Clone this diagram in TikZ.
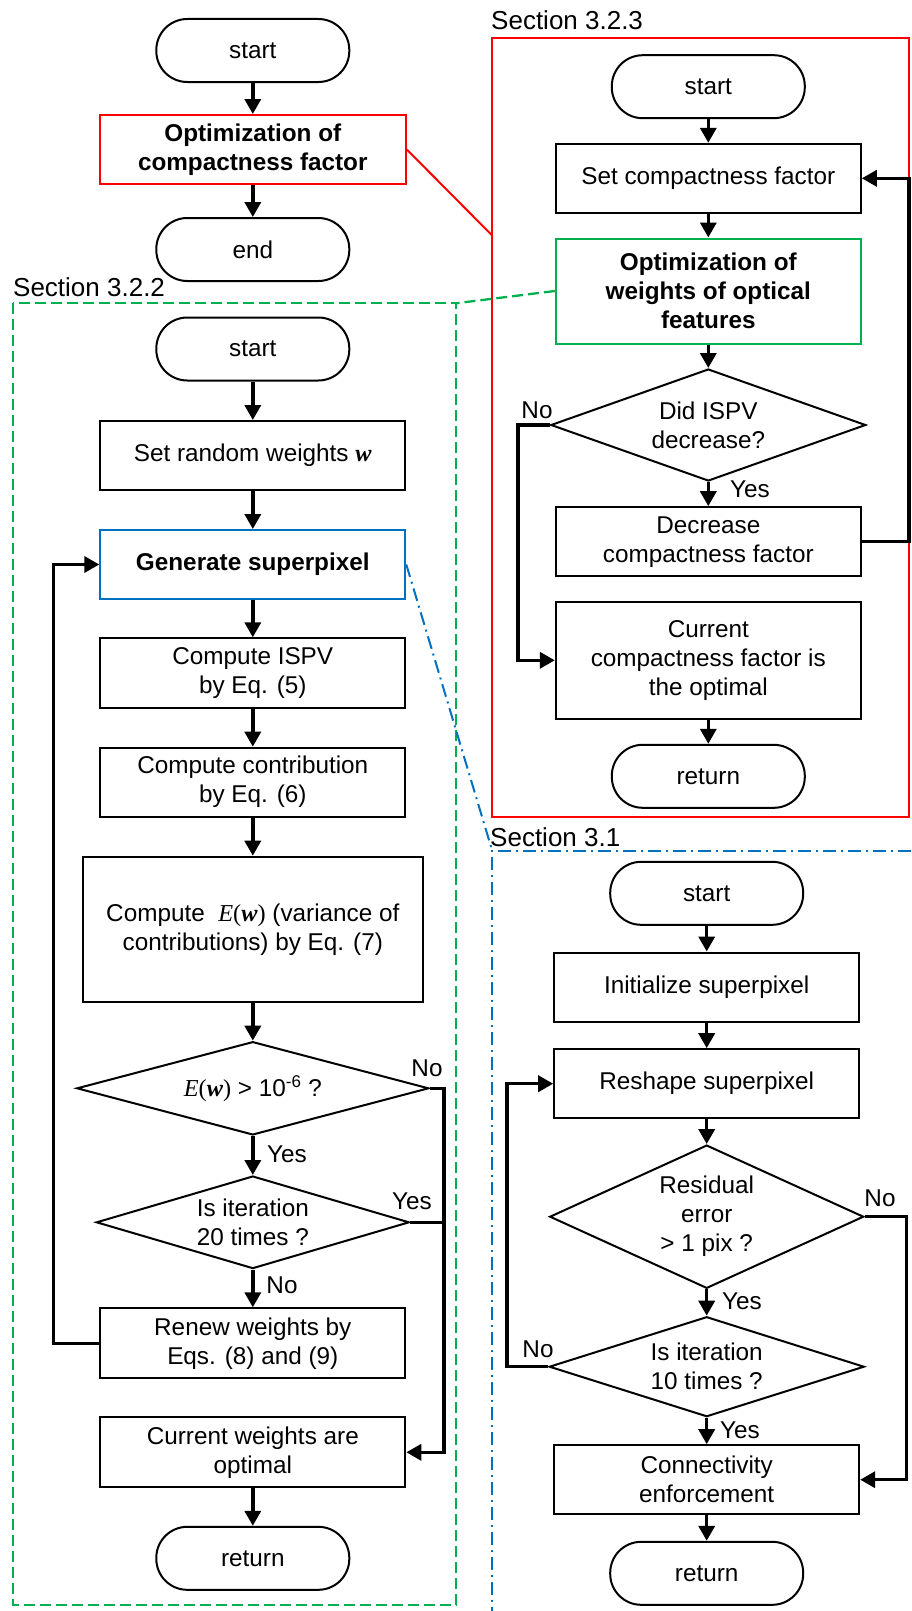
\documentclass[tikz,border=0pt]{standalone}
\usepackage{fontspec}
\setmainfont{Liberation Sans}
\newfontfamily\timesfont{Liberation Serif}
\usetikzlibrary{calc,arrows.meta,shapes.geometric}

\definecolor{offred}{RGB}{255,0,0}
\definecolor{offgreen}{RGB}{0,176,80}
\definecolor{offblue}{RGB}{0,112,192}

\tikzset{
  base/.style={draw=black, line width=2pt, align=center, inner sep=0pt,
    font=\fontsize{24.3}{29}\selectfont},
  term/.style={base, rounded corners=31pt, minimum width=193pt, minimum height=63pt},
  proc/.style={base, minimum width=305pt, minimum height=69pt},
  decis/.style={base, diamond},
  conn/.style={line width=3.5pt},
  arr/.style={conn, -{Triangle[length=15pt,width=16pt]}},
  lbl/.style={font=\fontsize{24.3}{29}\selectfont, inner sep=0pt},
  sec/.style={font=\fontsize{26}{30}\selectfont, anchor=base west, inner sep=0pt},
  redframe/.style={draw=offred, line width=2pt},
  greenframe/.style={draw=offgreen, line width=2.3pt, dash pattern=on 11pt off 5pt},
  blueframe/.style={draw=offblue, line width=2pt, dash pattern=on 13pt off 5pt on 2pt off 5pt},
}
\newcommand{\Ew}{{\timesfont\textit{E}(\textbf{\textit{w}})}}

\begin{document}
\begin{tikzpicture}[x=1pt, y=-1pt]
  \useasboundingbox (0,0) rectangle (911,1611);

  % main flow
  \node[term] (start1) at (252.8,50.5) {start};
  \node[proc, draw=offred, minimum width=306pt] (optcf) at (252.8,149.5) {\bfseries Optimization of\\\bfseries compactness factor};
  \node[term] (end1) at (252.8,249.5) {end};
  \draw[arr] (start1) -- (optcf);
  \draw[arr] (optcf) -- (end1);

  % section frames
  \node[sec] (secB) at (491,30) {Section 3.2.3};
  \node[sec] (secA) at (13,296) {Section 3.2.2};
  \node[sec] (secC) at (490,846) {Section 3.1};
  \draw[redframe] (491.7,38.3) rectangle (909,816.7);
  \draw[greenframe] (13.3,303.3) rectangle (455.7,1605);
  \draw[blueframe] (911,851) -- (492.3,851) -- (492.3,1611);
  \coordinate (redjoin) at (491.7,235);
  \coordinate (greenjoin) at (455.7,303.3);
  \coordinate (bluejoin) at (492.3,851);

  % Section 3.2.3
  \node[term] (start2) at (708.3,86.7) {start};
  \node[proc] (setcf) at (708.3,178.3) {Set compactness factor};
  \node[proc, draw=offgreen, minimum height=105pt] (optw) at (708.3,291) {\bfseries Optimization of\\\bfseries weights of optical\\\bfseries features};
  \node[decis, aspect=2.81, minimum width=315pt, minimum height=112pt] (did) at (708.3,425) {Did ISPV\\decrease?};
  \node[proc] (decr) at (708.3,541.7) {Decrease\\compactness factor};
  \node[proc, minimum height=117pt] (curcf) at (708.3,660.3) {Current\\compactness factor is\\the optimal};
  \node[term] (ret2) at (708.3,776.3) {return};
  \draw[arr] (start2) -- (setcf);
  \draw[arr] (setcf) -- (optw);
  \draw[arr] (optw) -- (did);
  \draw[arr] (did) -- (decr);
  \draw[arr] (curcf) -- (ret2);
  \draw[arr] (decr.east) -- ++(47,0) |- (setcf.east);
  \draw[arr] (did.west) -- ++(-31.7,0) |- (curcf.west);
  \node[lbl] (noB) at (537,410) {No};
  \node[lbl] (yesB) at (750,489) {Yes};

  % Section 3.2.2
  \node[term] (start3) at (252.8,349) {start};
  \node[proc] (setw) at (252.8,455.5) {Set random weights {\timesfont\textbf{\textit{w}}}};
  \node[proc, draw=offblue] (gensp) at (252.8,564.5) {\bfseries Generate superpixel};
  \node[proc, minimum height=70pt] (cispv) at (252.8,673.3) {Compute ISPV\\by Eq. (5)};
  \node[proc] (ccon) at (252.8,782.2) {Compute contribution\\by Eq. (6)};
  \node[proc, minimum width=340pt, minimum height=145.6pt] (cew) at (252.8,929.5) {Compute \ \Ew{} (variance of\\contributions) by Eq. (7)};
  \node[decis, aspect=3.77, minimum width=352pt, minimum height=93.3pt] (dew) at (252.8,1088.3) {\Ew{} > 10\textsuperscript{-6} ?};
  \node[decis, aspect=3.38, minimum width=313pt, minimum height=92.6pt] (dit20) at (252.8,1222.3) {Is iteration\\20 times ?};
  \node[proc, minimum height=70pt] (renew) at (252.8,1343.3) {Renew weights by\\Eqs. (8) and (9)};
  \node[proc, minimum height=70pt] (curw) at (252.8,1452.3) {Current weights are\\optimal};
  \node[term] (ret3) at (252.8,1558.3) {return};
  \draw[arr] (start3) -- (setw);
  \draw[arr] (setw) -- (gensp);
  \draw[arr] (gensp) -- (cispv);
  \draw[arr] (cispv) -- (ccon);
  \draw[arr] (ccon) -- (cew);
  \draw[arr] (cew) -- (dew);
  \draw[arr] (dew) -- (dit20);
  \draw[arr] (dit20) -- (renew);
  \draw[arr] (curw) -- (ret3);
  \draw[arr] (renew.west) -- ++(-45.8,0) |- (gensp.west);
  \coordinate (jn) at (444,1222.3);
  \draw[arr] (dew.east) -| (jn) |- (curw.east);
  \draw[conn] (dit20.east) -- (jn);
  \node[lbl] (noA1) at (427,1068) {No};
  \node[lbl] (yesA1) at (287,1154) {Yes};
  \node[lbl] (yesA2) at (412,1201) {Yes};
  \node[lbl] (noA2) at (282,1285) {No};

  % Section 3.1
  \node[term] (start4) at (706.7,893.3) {start};
  \node[proc] (init) at (706.7,987) {Initialize superpixel};
  \node[proc] (resh) at (706.7,1083.7) {Reshape superpixel};
  \node[decis, aspect=2.19, minimum width=314pt, minimum height=143.3pt] (resid) at (706.7,1216.7) {Residual\\error\\> 1 pix ?};
  \node[decis, aspect=3.15, minimum width=315pt, minimum height=100pt] (dit10) at (706.7,1366.7) {Is iteration\\10 times ?};
  \node[proc] (connf) at (706.7,1479.7) {Connectivity\\enforcement};
  \node[term] (ret4) at (706.7,1573.3) {return};
  \draw[arr] (start4) -- (init);
  \draw[arr] (init) -- (resh);
  \draw[arr] (resh) -- (resid);
  \draw[arr] (resid) -- (dit10);
  \draw[arr] (dit10) -- (connf);
  \draw[arr] (connf) -- (ret4);
  \draw[arr] (dit10.west) -- ++(-41,0) |- (resh.west);
  \draw[arr] (resid.east) -- ++(42,0) |- (connf.east);
  \node[lbl] (noC1) at (880,1198) {No};
  \node[lbl] (yesC1) at (742,1301) {Yes};
  \node[lbl] (noC2) at (538,1349) {No};
  \node[lbl] (yesC2) at (740,1430) {Yes};

  % links between levels
  \draw[redframe] (optcf.east) -- (redjoin);
  \draw[greenframe] (optw.west) -- (greenjoin);
  \draw[blueframe] (gensp.east) -- (bluejoin);
\end{tikzpicture}
\end{document}
